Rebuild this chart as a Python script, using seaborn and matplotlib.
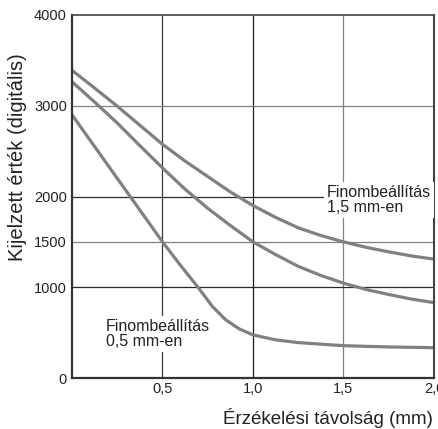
import numpy as np
import pandas as pd
import matplotlib
matplotlib.use("Agg")
import matplotlib.pyplot as plt
import seaborn as sb

# adatok
x_felso = [0, 0.125, 0.25, 0.375, 0.5, 0.625, 0.75, 0.875, 1.0, 1.125, 1.25, 1.375, 1.5, 1.625, 1.75, 1.875, 2.0]
y_felso = [3390, 3195, 2995, 2785, 2575, 2390, 2220, 2050, 1900, 1770, 1655, 1570, 1500, 1440, 1390, 1345, 1310]

x_kozep = [0, 0.125, 0.25, 0.375, 0.5, 0.625, 0.75, 0.875, 1.0, 1.125, 1.25, 1.375, 1.5, 1.625, 1.75, 1.875, 2.0]
y_kozep = [3265, 3040, 2810, 2560, 2315, 2080, 1870, 1680, 1500, 1360, 1230, 1130, 1045, 975, 920, 870, 830]

x_also = [0, 0.125, 0.25, 0.375, 0.5, 0.6, 0.7, 0.775, 0.85, 0.925, 1.0, 1.125, 1.25, 1.5, 1.75, 2.0]
y_also = [2900, 2550, 2200, 1850, 1500, 1240, 990, 790, 640, 540, 475, 420, 390, 356, 342, 334]

x_tick = [0.5, 1.0, 1.5, 2.0]
x_tick_cimke = ["0,5", "1,0", "1,5", "2,0"]
y_tick = [0, 1000, 1500, 2000, 3000, 4000]
x_racs = [0.5, 1.0, 1.5]
x_racs_szin = ["#3a3a3a", "#1a1a1a", "#808080"]
y_racs = [1000, 1500, 2000, 3000]
y_racs_szin = ["#2a2a2a", "#808080", "#2a2a2a", "#808080"]

df = pd.concat([
    pd.DataFrame({"x": x_felso, "y": y_felso, "gorbe": "a"}),
    pd.DataFrame({"x": x_kozep, "y": y_kozep, "gorbe": "b"}),
    pd.DataFrame({"x": x_also, "y": y_also, "gorbe": "c"}),
])

sb.set_style("white")
plt.rcParams["font.family"] = ["Liberation Sans", "DejaVu Sans"]

fig = plt.figure(figsize=(4.39, 4.29), dpi=100)
ax = fig.add_axes([72/439, 1-378/429, (434-72)/439, (378-15)/429])

for v, c in zip(x_racs, x_racs_szin):
    ax.axvline(v, color=c, lw=0.9, zorder=1)
for v, c in zip(y_racs, y_racs_szin):
    ax.axhline(v, color=c, lw=0.9, zorder=1)

sb.lineplot(data=df, x="x", y="y", units="gorbe", estimator=None,
            color="#808080", lw=2.3, ax=ax, legend=False, zorder=2)

ax.set_xlim(0, 2.0)
ax.set_ylim(0, 4000)
ax.set_xticks(x_tick)
ax.set_xticklabels(x_tick_cimke)
ax.set_yticks(y_tick)
ax.tick_params(length=0, labelsize=10.5, colors="#222222")
ax.tick_params(axis="y", pad=3.6)
ax.tick_params(axis="x", pad=3)
ax.set_xlabel("")
ax.set_ylabel("")

for s in ["left", "bottom"]:
    ax.spines[s].set_color("#333333")
    ax.spines[s].set_linewidth(1.6)
ax.spines["top"].set_color("#444444")
ax.spines["top"].set_linewidth(1.2)
ax.spines["right"].set_color("#444444")
ax.spines["right"].set_linewidth(1.5)

ax.text(0.188, 655, "Finombeállítás\n0,5 mm-en", fontsize=11.5, va="top", ha="left",
        color="#222222", linespacing=1.05,
        bbox=dict(facecolor="white", edgecolor="none", pad=2), zorder=5)
ax.text(1.409, 2130, "Finombeállítás\n1,5 mm-en", fontsize=11.5, va="top", ha="left",
        color="#222222", linespacing=1.05,
        bbox=dict(facecolor="white", edgecolor="none", pad=2), zorder=5, clip_on=False)

fig.text(433/439, 1-418/429, "Érzékelési távolság (mm)", fontsize=13.5, ha="right",
         va="center", color="#222222")
fig.text(18/439, 1-157/429, "Kijelzett érték (digitális)", fontsize=14.5, rotation=90,
         ha="center", va="center", color="#222222")

fig.savefig("out.png", dpi=100)
